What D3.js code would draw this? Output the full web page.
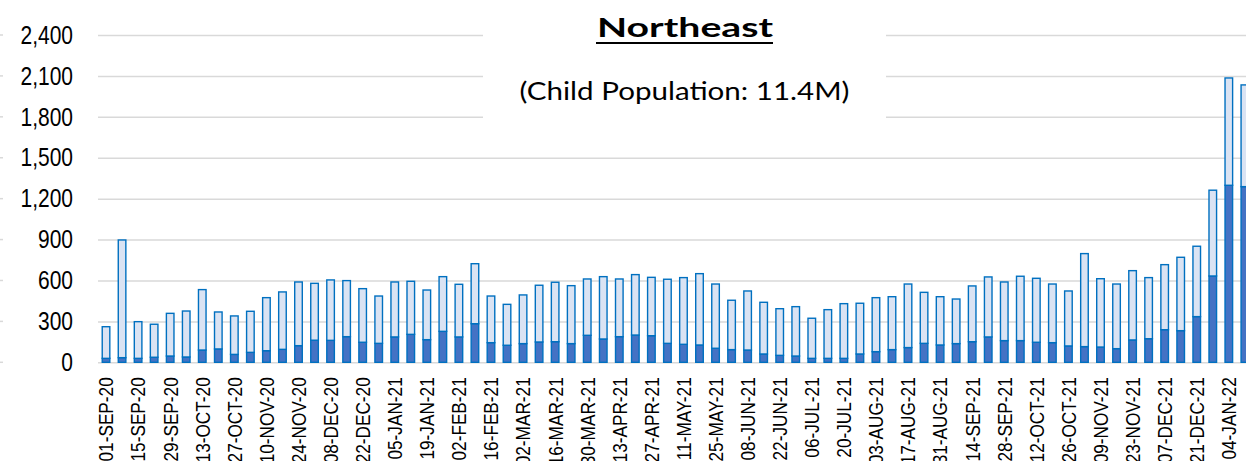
<html>
<head>
    <title>Northeast weekly bars</title>
    <script src="https://d3js.org/d3.v7.min.js"></script>
    <style>
        body { margin: 0; background: #fff; }
        svg { display: block; overflow: hidden; }
    </style>
</head>
<body>
    <div id="cont"></div>
    <script>
        // week starting dates (one bar per week)
        var weeks = [
            '01-SEP-20', '08-SEP-20', '15-SEP-20', '22-SEP-20', '29-SEP-20', '06-OCT-20',
            '13-OCT-20', '20-OCT-20', '27-OCT-20', '03-NOV-20', '10-NOV-20', '17-NOV-20',
            '24-NOV-20', '01-DEC-20', '08-DEC-20', '15-DEC-20', '22-DEC-20', '29-DEC-20',
            '05-JAN-21', '12-JAN-21', '19-JAN-21', '26-JAN-21', '02-FEB-21', '09-FEB-21',
            '16-FEB-21', '23-FEB-21', '02-MAR-21', '09-MAR-21', '16-MAR-21', '23-MAR-21',
            '30-MAR-21', '06-APR-21', '13-APR-21', '20-APR-21', '27-APR-21', '04-MAY-21',
            '11-MAY-21', '18-MAY-21', '25-MAY-21', '01-JUN-21', '08-JUN-21', '15-JUN-21',
            '22-JUN-21', '29-JUN-21', '06-JUL-21', '13-JUL-21', '20-JUL-21', '27-JUL-21',
            '03-AUG-21', '10-AUG-21', '17-AUG-21', '24-AUG-21', '31-AUG-21', '07-SEP-21',
            '14-SEP-21', '21-SEP-21', '28-SEP-21', '05-OCT-21', '12-OCT-21', '19-OCT-21',
            '26-OCT-21', '02-NOV-21', '09-NOV-21', '16-NOV-21', '23-NOV-21', '30-NOV-21',
            '07-DEC-21', '14-DEC-21', '21-DEC-21', '28-DEC-21', '04-JAN-22', '11-JAN-22'
        ];

        // bar totals (light + dark)
        var totalValues = [
            261, 897, 298, 279, 359, 376, 533, 369, 340, 374, 474, 516,
            589, 579, 604, 599, 540, 486, 589, 594, 530, 628, 572, 723,
            486, 425, 494, 565, 587, 562, 611, 628, 611, 643, 623, 609,
            621, 650, 574, 455, 523, 440, 393, 408, 323, 386, 430, 433,
            474, 481, 574, 513, 481, 464, 560, 626, 589, 631, 616, 574,
            523, 797, 613, 574, 672, 621, 716, 770, 851, 1262, 2085, 2034
        ];

        // dark bottom segment
        var darkValues = [
            29, 34, 29, 37, 46, 39, 90, 98, 58, 73, 85, 95,
            122, 162, 161, 188, 147, 139, 186, 205, 166, 227, 186, 283,
            144, 125, 137, 149, 151, 137, 198, 171, 188, 200, 195, 139,
            132, 127, 103, 93, 90, 61, 51, 46, 29, 29, 29, 61,
            78, 93, 108, 139, 127, 137, 151, 186, 159, 159, 147, 144,
            120, 115, 112, 100, 164, 173, 239, 232, 335, 633, 1298, 1288
        ];

        var yTicks = [0, 300, 600, 900, 1200, 1500, 1800, 2100, 2400];

        var chartTitle = 'Northeast',
            chartSubtitle = '(Child Population: 11.4M)';

        (function() {
            var W = 1246, H = 461,
                left = 98,
                step = 16.04,
                bottomY = 362.3,
                topY = 35,
                narrow = 0.82; // no narrow font installed, squeeze by hand

            var rows = weeks.map(function(w, i) {
                return { week: w, dark: darkValues[i], light: totalValues[i] - darkValues[i] };
            });
            var stacked = d3.stack().keys(['dark', 'light'])(rows);

            var svg = d3.select('#cont').append('svg')
                .attr('width', W)
                .attr('height', H);

            var x = d3.scaleBand()
                .domain(weeks)
                .range([left, left + step * weeks.length])
                .paddingInner(0.44)
                .paddingOuter(0.22);

            var y = d3.scaleLinear()
                .domain([0, 2400])
                .range([bottomY, topY]);

            //gridlines
            svg.append('g')
                .attr('class', 'grid')
                .attr('transform', 'translate(' + left + ',0)')
                .call(d3.axisLeft(y).tickValues(yTicks).tickSize(-(W - left + 20)).tickFormat(''))
                .call(function(g) {
                    g.select('.domain').remove();
                    g.selectAll('line').attr('stroke', '#d9d9d9').attr('stroke-width', 1.5);
                });

            //little cut-off marks at the far left
            svg.append('g')
                .selectAll('line')
                .data(yTicks)
                .enter()
                .append('line')
                .attr('x1', 0).attr('x2', 3)
                .attr('y1', function(d) { return y(d); })
                .attr('y2', function(d) { return y(d); })
                .attr('stroke', '#d9d9d9')
                .attr('stroke-width', 1.5);

            //y labels
            svg.append('g')
                .attr('transform', 'translate(73,0)')
                .call(d3.axisLeft(y).tickValues(yTicks).tickSize(0).tickPadding(0).tickFormat(d3.format(',')))
                .call(function(g) {
                    g.select('.domain').remove();
                    g.selectAll('text')
                        .attr('fill', '#000')
                        .attr('x', 0)
                        .attr('transform', 'scale(' + narrow + ',1)')
                        .style('font-family', '"Liberation Sans", Arial, sans-serif')
                        .style('font-size', '25.6px');
                });

            //bars
            var colors = { dark: '#4472c4', light: '#dae3f3' };
            var sw = 1.4;
            svg.append('g')
                .selectAll('g')
                .data(stacked)
                .enter()
                .append('g')
                .attr('fill', function(s) { return colors[s.key]; })
                .selectAll('rect')
                .data(function(s) { return s; })
                .enter()
                .append('rect')
                .attr('x', function(d) { return x(d.data.week) + sw / 2; })
                .attr('width', x.bandwidth() - sw)
                .attr('y', function(d) { return y(d[1]); })
                .attr('height', function(d) { return y(d[0]) - y(d[1]); })
                .attr('stroke', '#0070c0')
                .attr('stroke-width', sw);

            //x labels, every other week
            svg.append('g')
                .attr('transform', 'translate(0,' + bottomY + ')')
                .call(d3.axisBottom(x)
                    .tickValues(weeks.filter(function(d, i) { return i % 2 === 0; }))
                    .tickSize(0))
                .call(function(g) {
                    g.select('.domain').remove();
                    g.selectAll('text')
                        .attr('fill', '#000')
                        .style('font-family', '"Liberation Sans", Arial, sans-serif')
                        .style('font-size', '21px')
                        .style('text-anchor', 'end')
                        .attr('x', -15 / narrow)
                        .attr('y', 0)
                        .attr('dy', '0.35em')
                        .attr('transform', 'rotate(-90) scale(' + narrow + ',1)');
                });

            //title box
            svg.append('rect')
                .attr('x', 483).attr('y', 0)
                .attr('width', 403).attr('height', 135)
                .attr('fill', '#fff');

            svg.append('text')
                .attr('x', 685)
                .attr('y', 36.5)
                .attr('text-anchor', 'middle')
                .attr('textLength', 176)
                .attr('lengthAdjust', 'spacingAndGlyphs')
                .style('font-family', 'Lato, "Open Sans", sans-serif')
                .style('font-weight', 'bold')
                .style('font-size', '26px')
                .text(chartTitle);

            svg.append('line')
                .attr('x1', 596).attr('x2', 773)
                .attr('y1', 43).attr('y2', 43)
                .attr('stroke', '#000')
                .attr('stroke-width', 2.2);

            svg.append('text')
                .attr('x', 684.5)
                .attr('y', 100)
                .attr('text-anchor', 'middle')
                .attr('textLength', 330)
                .attr('lengthAdjust', 'spacingAndGlyphs')
                .style('font-family', 'Lato, "Open Sans", sans-serif')
                .style('font-size', '25px')
                .text(chartSubtitle);
        })();
    </script>
</body>
</html>
